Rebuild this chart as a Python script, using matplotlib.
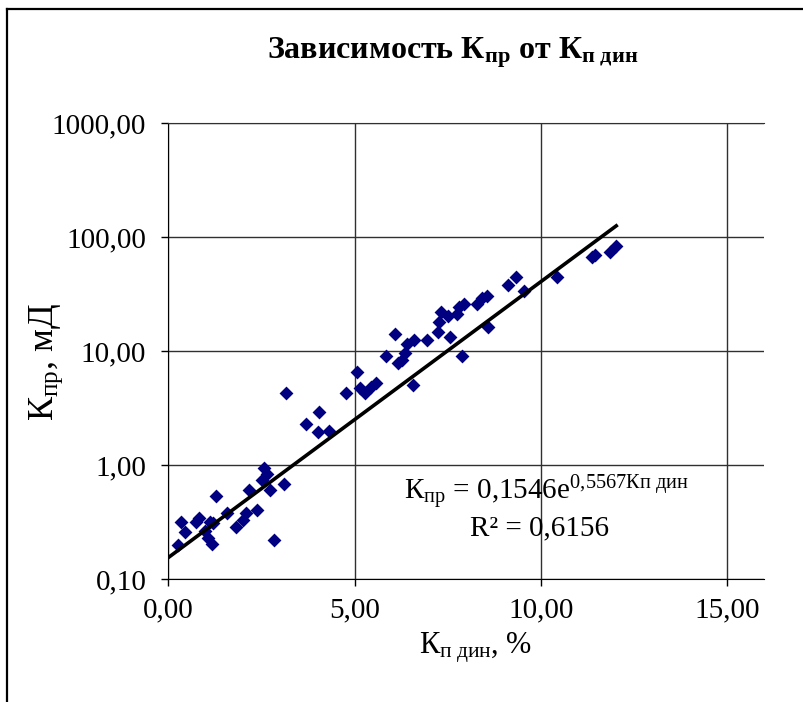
import numpy as np
import matplotlib
matplotlib.use("Agg")
import matplotlib.pyplot as plt
from matplotlib.lines import Line2D
from matplotlib.ticker import FixedLocator, FixedFormatter, NullLocator

plt.rcParams['font.family'] = ['Liberation Serif', 'DejaVu Serif']
plt.rcParams['mathtext.fontset'] = 'custom'
plt.rcParams['mathtext.rm'] = 'Liberation Serif'
plt.rcParams['mathtext.it'] = 'Liberation Serif:italic'
plt.rcParams['mathtext.bf'] = 'Liberation Serif:bold'

# Данные: Кп дин (%) и Кпр (мД)
kp_din = [0.26, 0.34, 0.44, 0.74, 0.82, 0.98, 1.06, 1.17, 1.12, 1.20,
          1.28, 1.57, 1.81, 2.00, 2.08, 2.16, 2.38, 2.51, 2.57, 2.65,
          2.73, 3.10, 2.84, 3.16, 3.70, 4.05, 4.02, 4.31, 4.77, 5.07,
          5.15, 5.28, 5.44, 5.58, 5.84, 6.09, 6.17, 6.28, 6.36, 6.41,
          6.60, 6.57, 6.95, 7.24, 7.27, 7.32, 7.51, 7.57, 7.75, 7.81,
          7.94, 7.89, 8.29, 8.43, 8.56, 8.59, 9.13, 9.34, 9.56, 10.44,
          11.38, 11.46, 11.87, 12.03]
kpr = [0.197, 0.319, 0.256, 0.319, 0.346, 0.266, 0.231, 0.201, 0.319, 0.313,
       0.540, 0.376, 0.283, 0.326, 0.383, 0.598, 0.399, 0.746, 0.932, 0.842,
       0.598, 0.688, 0.222, 4.32, 2.31, 2.89, 1.93, 1.97, 4.32, 6.48,
       4.69, 4.24, 4.88, 5.29, 9.13, 14.2, 7.77, 8.42, 9.70, 11.6,
       12.4, 5.08, 12.4, 14.8, 17.8, 21.8, 20.1, 13.4, 21.3, 24.1,
       26.1, 8.95, 26.1, 28.9, 30.1, 16.1, 38.3, 44.2, 33.9, 44.2,
       66.1, 70.2, 74.6, 82.6]

# Экспоненциальный тренд (из подписи на графике)
trend_a = 0.1546
trend_b = 0.5567
r2 = "0,6156"

x_ticks = [0, 5, 10, 15]
x_labels = ["0,00", "5,00", "10,00", "15,00"]
y_ticks = [0.1, 1, 10, 100, 1000]
y_labels = ["0,10", "1,00", "10,00", "100,00", "1000,00"]

fig = plt.figure(figsize=(8.04, 7.02), dpi=100)
ax = fig.add_axes([168.5 / 804, 1 - 579 / 702, (764 - 168.5) / 804, (579 - 123) / 702])

ax.set_yscale('log')
ax.set_xlim(0, 16)
ax.set_ylim(0.1, 1000)

ax.scatter(kp_din, kpr, marker='D', s=50, color='#000080', zorder=3, linewidths=0)

xt = np.linspace(0, max(kp_din), 100)
ax.plot(xt, trend_a * np.exp(trend_b * xt), color='black', lw=2.6, zorder=4)

ax.xaxis.set_major_locator(FixedLocator(x_ticks))
ax.xaxis.set_major_formatter(FixedFormatter(x_labels))
ax.yaxis.set_major_locator(FixedLocator(y_ticks))
ax.yaxis.set_major_formatter(FixedFormatter(y_labels))
ax.yaxis.set_minor_locator(NullLocator())
ax.xaxis.set_minor_locator(NullLocator())
ax.tick_params(axis='both', labelsize=21, length=5, width=1, color='black')
ax.tick_params(axis='x', pad=8)
ax.tick_params(axis='y', pad=11)

ax.grid(True, color='#303030', lw=1)
ax.set_axisbelow(True)
ax.spines['right'].set_visible(False)
ax.spines['top'].set_color('#303030')
for s in ['left', 'bottom']:
    ax.spines[s].set_color('black')

# подписи
fig.text(453 / 804, 1 - 58 / 702, r'Зависимость К$_{\mathbf{пр}}$ от К$_{\mathbf{п\ дин}}$',
         ha='center', va='baseline', fontsize=23, fontweight='bold')
fig.text(476 / 804, 1 - 655 / 702, r'К$_{\mathrm{п\ дин}}$, %', ha='center', va='baseline', fontsize=22)
fig.text(46 / 804, 1 - 362 / 702, r'К$_{\mathrm{пр}}$, мД', ha='center', va='center',
         rotation=90, fontsize=26)

fig.text(546 / 804, 1 - 500 / 702, r'К$_{\mathrm{пр}}$ = 0,1546e$^{\mathrm{0{,}5567Кп\ дин}}$',
         ha='center', va='baseline', fontsize=21)
fig.text(539 / 804, 1 - 535 / 702, 'R² = ' + r2, ha='center', va='baseline', fontsize=21)

# рамка диаграммы
fig.add_artist(Line2D([7.5 / 804, 7.5 / 804], [0, 1 - 8.7 / 702], color='black', lw=1.6,
                      transform=fig.transFigure))
fig.add_artist(Line2D([7.5 / 804, 1], [1 - 8.7 / 702, 1 - 8.7 / 702], color='black', lw=1.6,
                      transform=fig.transFigure))

fig.savefig('out.png', dpi=100)
